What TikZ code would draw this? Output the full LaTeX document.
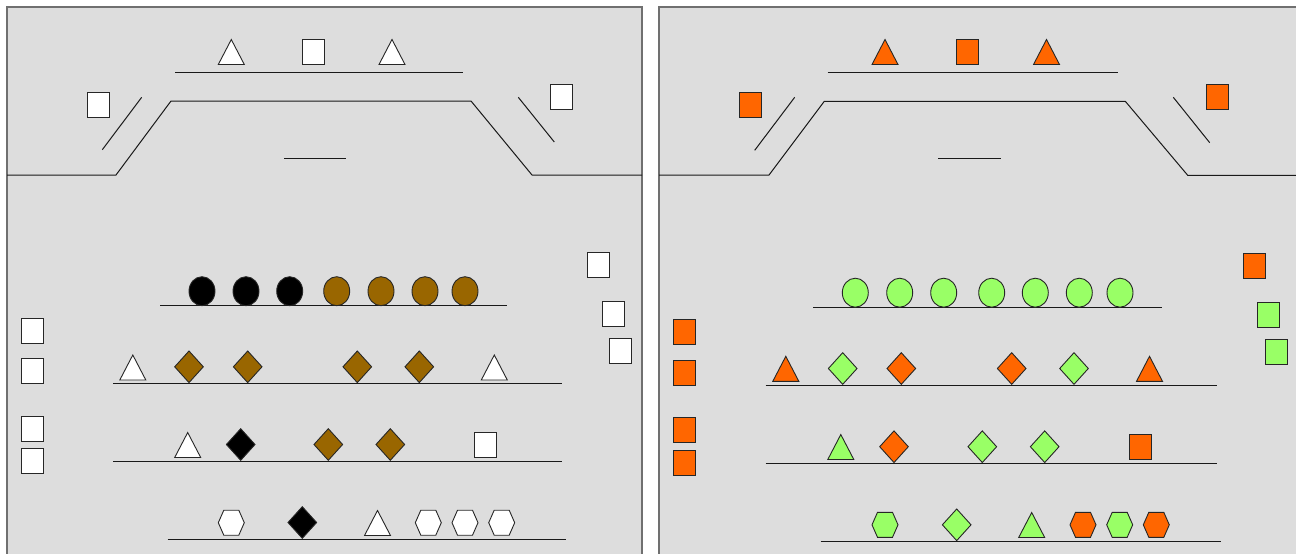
\documentclass[tikz,border=0pt]{standalone}
\usetikzlibrary{shapes.geometric}
\definecolor{bgc}{HTML}{DDDDDD}
\definecolor{framec}{HTML}{707070}
\definecolor{brn}{HTML}{996600}
\definecolor{org}{HTML}{FF6600}
\definecolor{grn}{HTML}{99FF66}
\tikzset{
  shp/.style={draw=black!85, line width=0.9pt},
  sqbox/.style={shp, rectangle, minimum width=22pt, minimum height=25pt, inner sep=0pt},
  ellbox/.style={shp, ellipse, minimum width=26pt, minimum height=29pt, inner sep=0pt},
  dmbox/.style={shp, diamond, minimum width=29pt, minimum height=32pt, inner sep=0pt},
  trk/.style={draw=black!90, line width=1pt},
  panel/.style={draw=framec, fill=bgc, line width=1.3pt}
}
\newcommand\mytri[4]{\coordinate (#1) at (#2,#3);
  \draw[shp,fill=#4,shift={(#1)}] (-13,12.5) -- (13,12.5) -- (0,-12.5) -- cycle;}
\newcommand\myhex[4]{\coordinate (#1) at (#2,#3);
  \draw[shp,fill=#4,shift={(#1)}] (-13,0) -- (-7.5,-12.5) -- (7.5,-12.5) -- (13,0) -- (7.5,12.5) -- (-7.5,12.5) -- cycle;}
\begin{document}
\begin{tikzpicture}[x=1pt,y=-1pt]
\useasboundingbox (0,0) rectangle (1296,554);
\fill[white] (0,0) rectangle (1296,554);
% panels
\draw[panel] (7,7) rectangle (642,570);
\draw[panel] (659,7) rectangle (1310,570);

% ===== LEFT PANEL =====
\draw[trk] (7,175) -- (116,175) -- (171,101) -- (471,101) -- (532,175) -- (642,175);
\draw[trk] (141.7,97.3) -- (102.3,149.7);
\draw[trk] (518.3,97.3) -- (554.3,142);
\draw[trk] (175,72.3) -- (463.3,72.3);
\draw[trk] (284.3,158.3) -- (346,158.3);
\mytri{lt1}{231.3}{52}{white}
\node[sqbox,fill=white] (ls1) at (313.5,52) {};
\mytri{lt2}{392}{52}{white}
\node[sqbox,fill=white] (ls2) at (98.3,105) {};
\node[sqbox,fill=white] (ls3) at (561.8,96.7) {};

% rows
\draw[trk] (160,305.7) -- (507,305.7);
\draw[trk] (113,383.7) -- (562,383.7);
\draw[trk] (113,461.3) -- (562,461.3);
\draw[trk] (167.7,539.3) -- (565.7,539.3);

\node[ellbox,fill=black] (le1) at (202,291.2) {};
\node[ellbox,fill=black] (le2) at (246,291.2) {};
\node[ellbox,fill=black] (le3) at (289.7,291.2) {};
\node[ellbox,fill=brn] (le4) at (336.7,291.2) {};
\node[ellbox,fill=brn] (le5) at (381,291.2) {};
\node[ellbox,fill=brn] (le6) at (425,291.2) {};
\node[ellbox,fill=brn] (le7) at (465,291.2) {};

\mytri{lr2t1}{132.8}{367.5}{white}
\node[dmbox,fill=brn] (lr2d1) at (189,366.8) {};
\node[dmbox,fill=brn] (lr2d2) at (247.7,366.8) {};
\node[dmbox,fill=brn] (lr2d3) at (357.3,366.8) {};
\node[dmbox,fill=brn] (lr2d4) at (419.3,366.8) {};
\mytri{lr2t2}{494.3}{367.5}{white}

\mytri{lr3t1}{187.7}{445}{white}
\node[dmbox,fill=black] (lr3d1) at (240.7,444.5) {};
\node[dmbox,fill=brn] (lr3d2) at (328.3,444.5) {};
\node[dmbox,fill=brn] (lr3d3) at (390.3,444.5) {};
\node[sqbox,fill=white] (lr3s1) at (485.2,444.8) {};

\myhex{lr4h1}{231.3}{522.7}{white}
\node[dmbox,fill=black] (lr4d1) at (302.3,522.5) {};
\mytri{lr4t1}{377.5}{523}{white}
\myhex{lr4h2}{428.3}{522.7}{white}
\myhex{lr4h3}{465}{522.7}{white}
\myhex{lr4h4}{501.7}{522.7}{white}

\node[sqbox,fill=white] (lq1) at (32.2,330.5) {};
\node[sqbox,fill=white] (lq2) at (32.2,371.3) {};
\node[sqbox,fill=white] (lq3) at (32.2,428.7) {};
\node[sqbox,fill=white] (lq4) at (32.2,461.3) {};
\node[sqbox,fill=white] (lq5) at (598.5,264.8) {};
\node[sqbox,fill=white] (lq6) at (613.2,314) {};
\node[sqbox,fill=white] (lq7) at (620.5,350.8) {};

% ===== RIGHT PANEL =====
\draw[trk] (659,175) -- (769,175) -- (824.3,101.3) -- (1125.3,101.3) -- (1187.7,175.3) -- (1296,175.3);
\draw[trk] (794.7,97.3) -- (754.7,150.3);
\draw[trk] (1173.3,97.3) -- (1209.7,142.7);
\draw[trk] (827.7,72.7) -- (1117.7,72.7);
\draw[trk] (938.3,158.7) -- (1000.7,158.7);
\mytri{rt1}{885}{52}{org}
\node[sqbox,fill=org] (rs1) at (967.5,52) {};
\mytri{rt2}{1046.5}{52}{org}
\node[sqbox,fill=org] (rs2) at (750.8,105.3) {};
\node[sqbox,fill=org] (rs3) at (1217.5,97) {};

\draw[trk] (813.3,307) -- (1162,307);
\draw[trk] (765.7,385) -- (1217,385);
\draw[trk] (765.7,463) -- (1217,463);
\draw[trk] (820.7,541.3) -- (1221,541.3);

\node[ellbox,fill=grn] (re1) at (855.3,292.7) {};
\node[ellbox,fill=grn] (re2) at (899.7,292.7) {};
\node[ellbox,fill=grn] (re3) at (943.7,292.7) {};
\node[ellbox,fill=grn] (re4) at (991.7,292.7) {};
\node[ellbox,fill=grn] (re5) at (1035.3,292.7) {};
\node[ellbox,fill=grn] (re6) at (1079.3,292.7) {};
\node[ellbox,fill=grn] (re7) at (1120,292.7) {};

\mytri{rr2t1}{785.8}{368.8}{org}
\node[dmbox,fill=grn] (rr2d1) at (842.7,368.5) {};
\node[dmbox,fill=org] (rr2d2) at (901.3,368.5) {};
\node[dmbox,fill=org] (rr2d3) at (1011.7,368.5) {};
\node[dmbox,fill=grn] (rr2d4) at (1074,368.5) {};
\mytri{rr2t2}{1149.5}{368.8}{org}

\mytri{rr3t1}{840.8}{447}{grn}
\node[dmbox,fill=org] (rr3d1) at (894,446.7) {};
\node[dmbox,fill=grn] (rr3d2) at (982.3,446.7) {};
\node[dmbox,fill=grn] (rr3d3) at (1044.7,446.7) {};
\node[sqbox,fill=org] (rr3s1) at (1140.2,446.8) {};

\myhex{rr4h1}{885}{524.8}{grn}
\node[dmbox,fill=grn] (rr4d1) at (956.7,524.8) {};
\mytri{rr4t1}{1031.7}{525}{grn}
\myhex{rr4h2}{1083}{524.8}{org}
\myhex{rr4h3}{1119.7}{524.8}{grn}
\myhex{rr4h4}{1156.3}{524.8}{org}

\node[sqbox,fill=org] (rq1) at (684.5,331.7) {};
\node[sqbox,fill=org] (rq2) at (684.5,372.7) {};
\node[sqbox,fill=org] (rq3) at (684.5,430.3) {};
\node[sqbox,fill=org] (rq4) at (684.5,463.2) {};
\node[sqbox,fill=org] (rq5) at (1254.2,265.8) {};
\node[sqbox,fill=grn] (rq6) at (1268.5,315.2) {};
\node[sqbox,fill=grn] (rq7) at (1276.2,352) {};
\end{tikzpicture}
\end{document}
